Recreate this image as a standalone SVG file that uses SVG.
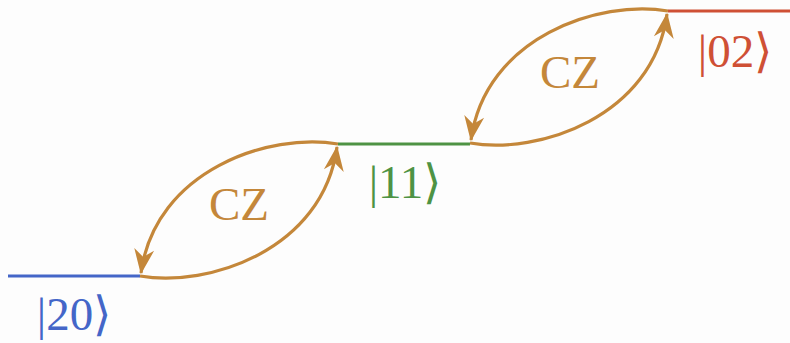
<svg xmlns="http://www.w3.org/2000/svg" width="790" height="343" viewBox="0 0 790 343">
<style>
.lvl{stroke-width:3;fill:none}
.arc{stroke:#c4873a;stroke-width:3.2;fill:none;marker-end:url(#ah)}
.lbl{font-family:"Liberation Serif","DejaVu Serif",serif;font-size:47px;text-anchor:middle}
.br{font-family:"Noto Sans CJK SC",sans-serif;font-weight:300}
</style>
<defs>
<marker id="ah" markerUnits="userSpaceOnUse" markerWidth="30" markerHeight="30" viewBox="-22 -11 24 22" refX="0" refY="0" orient="auto">
<path d="M1,0 L-19,-8 L-13,0 L-19,8 Z" fill="#c4873a"/>
</marker>
</defs>
<rect width="790" height="343" fill="#fdfdfd"/>
<g id="level20">
<line class="lvl" x1="8" y1="276" x2="140" y2="276" stroke="#4466c8"/>
<text class="lbl" x="74" y="330" fill="#4466c8">|20<tspan class="br">⟩</tspan></text>
</g>
<g id="level11">
<line class="lvl" x1="338" y1="144" x2="470" y2="144" stroke="#4e9344"/>
<text class="lbl" x="405" y="198" fill="#4e9344">|11<tspan class="br">⟩</tspan></text>
</g>
<g id="level02">
<line class="lvl" x1="668" y1="11" x2="790" y2="11" stroke="#cf5035"/>
<text class="lbl" x="735" y="67" fill="#cf5035">|02<tspan class="br">⟩</tspan></text>
</g>
<g id="connectors">
<path class="arc" d="M338,144 C270,132 155,170 141,273"/>
<path class="arc" d="M140,276 C208,288 323,250 337,147"/>
<path class="arc" d="M668,11 C600,-1 485,37 471,140"/>
<path class="arc" d="M470,143 C538,155 653,117 667,14"/>
</g>
<g id="cz1"><text class="lbl" x="239" y="220" fill="#c4873a">CZ</text></g>
<g id="cz2"><text class="lbl" x="570" y="88" fill="#c4873a">CZ</text></g>
</svg>
